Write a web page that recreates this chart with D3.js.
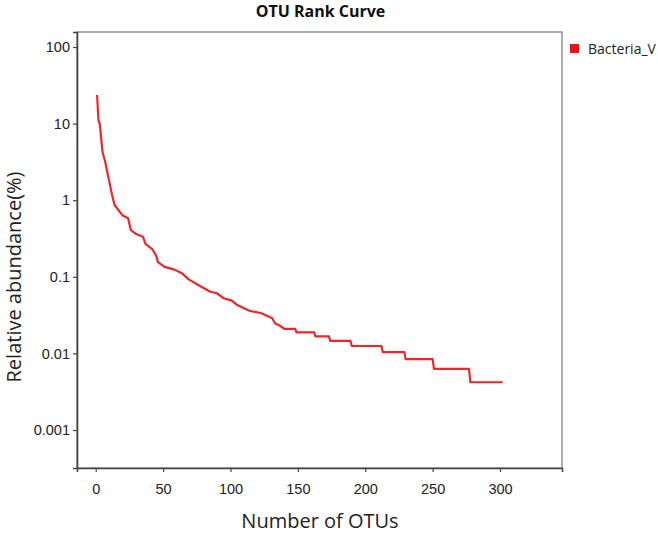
<!DOCTYPE html>
<html><head><meta charset="utf-8">
<script src="https://cdn.jsdelivr.net/npm/d3@7"></script>
<style>body{margin:0;background:#fff;overflow:hidden}svg{display:block}</style>
</head><body>
<script>
// ---- data ----
const seriesName = "Bacteria_V";
const ranks = [1,2,3,5,7,12,14,20,24,26,30,35,37,42,45,46,51,58,64,69,77,85,90,95,101,105,114,123,131,133,137,140,148,149,162,163,173,174,189,190,212,213,229,230,250,251,277,278,302];
const abundance = [23.6,11.1,9.9,4.3,3.18,1.2,0.865,0.63,0.58,0.41,0.362,0.334,0.268,0.23,0.187,0.157,0.135,0.125,0.111,0.0927,0.0764,0.0638,0.061,0.0524,0.0488,0.0428,0.0361,0.0334,0.0287,0.0247,0.0228,0.0209,0.0209,0.0188,0.0188,0.0167,0.0167,0.0146,0.0146,0.0125,0.0125,0.0104,0.0104,0.0084,0.0084,0.0063,0.0063,0.0042,0.0042];
const xTicks = [0,50,100,150,200,250,300];
const yTicks = [100,10,1,0.1,0.01,0.001];

const W = 658, H = 543;
const m = {l:77, r:562, t:32, b:468};
const svg = d3.select("body").append("svg").attr("width",W).attr("height",H)
  .style("font-family","'Open Sans','Noto Sans',sans-serif");

const x = d3.scaleLinear().domain([-13.9, 346]).range([m.l, m.r]);
const y = d3.scaleLog().domain([Math.pow(10,-3.496), Math.pow(10,2.196)]).range([m.b, m.t]);

// frame
svg.append("rect").attr("x",m.l).attr("y",m.t).attr("width",m.r-m.l).attr("height",m.b-m.t)
  .attr("fill","none").attr("stroke","#777").attr("stroke-width",1.2);

// axes
const xa = svg.append("g").attr("transform",`translate(0,${m.b})`)
  .call(d3.axisBottom(x).tickValues(xTicks).tickSize(4).tickPadding(9).tickFormat(d3.format("d")));
const ya = svg.append("g").attr("transform",`translate(${m.l},0)`)
  .call(d3.axisLeft(y).tickValues(yTicks).tickSize(4).tickPadding(3).tickFormat(d => String(d)));
[xa,ya].forEach(g=>{
  g.select(".domain").attr("stroke","#444").attr("stroke-width",1.6);
  g.selectAll(".tick line").attr("stroke","#444").attr("stroke-width",1.2);
  g.selectAll(".tick text").attr("fill","#222").style("font-size","14.5px");
});
xa.selectAll(".tick text").attr("dy","0.9em");

// line
const pts = ranks.map((r,i)=>[r, abundance[i]]);
svg.append("path").datum(pts)
  .attr("fill","none").attr("stroke","#f0252a").attr("stroke-width",2.2)
  .attr("stroke-linejoin","round")
  .attr("d", d3.line().x(d=>x(d[0])).y(d=>y(d[1])));

// title
svg.append("text").attr("x",(m.l+m.r)/2+1).attr("y",17).attr("text-anchor","middle")
  .style("font-size","16px").style("font-weight","bold").attr("fill","#111").text("OTU Rank Curve");
// axis titles
svg.append("text").attr("x",320).attr("y",528).attr("text-anchor","middle")
  .style("font-size","20px").attr("fill","#222").text("Number of OTUs");
svg.append("text").attr("transform",`translate(21,${(m.t+m.b)/2+27}) rotate(-90)`).attr("text-anchor","middle")
  .style("font-size","20px").attr("fill","#222").text("Relative abundance(%)");

// legend
const lg = svg.append("g").attr("transform","translate(570,44)");
lg.append("rect").attr("width",9).attr("height",9).attr("fill","#e8141c");
lg.append("text").attr("x",18).attr("y",10).style("font-size","14px").attr("fill","#222").text(seriesName);
</script>
</body></html>
